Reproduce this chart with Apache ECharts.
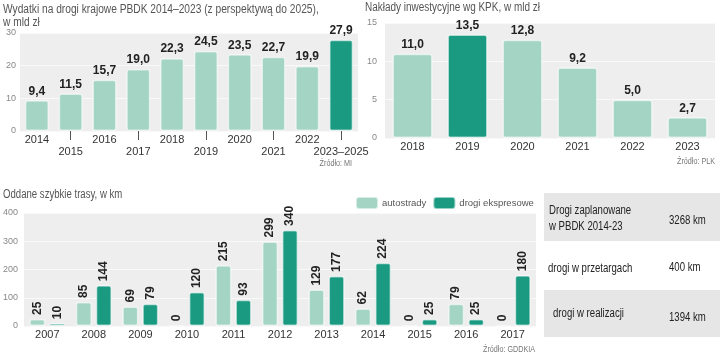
<!DOCTYPE html>
<html lang="pl">
<head>
<meta charset="UTF-8">
<title>Drogi i koleje</title>
<script src="https://cdn.jsdelivr.net/npm/echarts@6/dist/echarts.min.js"></script>
<style>
html,body{margin:0;padding:0;background:#fff;}
#main{width:720px;height:354px;}
</style>
</head>
<body>
<div id="main"></div>
<script type="text/javascript">
// wydatki PBDK, mld zl
var pbdkYears = ['2014','2015','2016','2017','2018','2019','2020','2021','2022','2023–2025'];
var pbdkValues = [9.4, 11.5, 15.7, 19.0, 22.3, 24.5, 23.5, 22.7, 19.9, 27.9];
// naklady KPK, mld zl
var kpkYears = ['2018','2019','2020','2021','2022','2023'];
var kpkValues = [11.0, 13.5, 12.8, 9.2, 5.0, 2.7];
// oddane trasy, km
var trasyYears = ['2007','2008','2009','2010','2011','2012','2013','2014','2015','2016','2017'];
var autostrady = [25, 85, 69, 0, 215, 299, 129, 62, 0, 79, 0];
var ekspresowe = [10, 144, 79, 120, 93, 340, 177, 224, 25, 25, 180];
// tabelka
var tabRows = [
    ['Drogi zaplanowane\nw PBDK 2014-23', '3268 km'],
    ['drogi w przetargach', '400 km'],
    ['drogi w realizacji', '1394 km']
];

var light = '#a4d4c4', dark = '#1b9a82';
var font = "'Liberation Sans',Arial,sans-serif";

function pl(v){ return v.toFixed(1).replace('.', ','); }
function colored(vals, hi){
    return vals.map(function(v, i){
        return {value: v, itemStyle: {color: i === hi ? dark : light}};
    });
}
// tekst "waski" - skalowany w poziomie
function txt(x, y, s, size, color, align, lh, sx){
    return {type: 'text', x: x, y: y, scaleX: sx || 0.8,
        style: {text: s, fill: color, fontSize: size, fontFamily: font,
                align: align || 'left', lineHeight: lh || size + 2}};
}
var barBorder = {borderColor: 'rgba(255,255,255,0.55)', borderWidth: 1.5, borderRadius: 2};
var valLabel = {show: true, position: 'top', distance: 3, color: '#222',
    fontFamily: font, fontWeight: 'bold', fontSize: 12};

function yAx(gi, max, step, margin){
    return {
        gridIndex: gi, type: 'value', min: 0, max: max, interval: step,
        axisLine: {show: false}, axisTick: {show: false},
        axisLabel: {color: '#888', fontSize: 9, fontFamily: font, margin: margin},
        splitLine: {lineStyle: {color: '#f9f9f9', width: 1}}
    };
}

var chart = echarts.init(document.getElementById('main'));
var option = {
    animation: false,
    backgroundColor: '#fff',
    legend: {
        left: 350, top: 191, itemWidth: 22, itemHeight: 12, itemGap: 6,
        icon: 'roundRect',
        textStyle: {color: '#555', fontSize: 9.5, fontFamily: font, padding: [0, 0, 0, -1]},
        data: [{name: 'autostrady', itemStyle: {color: light}},
               {name: 'drogi ekspresowe', itemStyle: {color: dark}}]
    },
    grid: [
        {left: 20, width: 338, top: 33, height: 98, show: true, backgroundColor: '#eeeeee', borderWidth: 0},
        {left: 385, width: 330, top: 23, height: 115, show: true, backgroundColor: '#eeeeee', borderWidth: 0},
        {left: 16, width: 520, top: 213, height: 113, show: true, backgroundColor: '#eeeeee', borderWidth: 0}
    ],
    xAxis: [
        {gridIndex: 0, type: 'category', data: pbdkYears,
         axisLine: {show: false},
         axisTick: {show: true, alignWithLabel: true, length: 9, interval: function(i){ return i % 2 === 1; },
                    lineStyle: {color: '#555'}},
         axisLabel: {interval: 0, color: '#333', fontSize: 11, fontFamily: font, margin: 3, lineHeight: 12,
                     formatter: function(v, i){ return i % 2 === 1 ? '\n' + v : v; }}},
        {gridIndex: 1, type: 'category', data: kpkYears,
         axisLine: {show: false}, axisTick: {show: false},
         axisLabel: {color: '#333', fontSize: 11, fontFamily: font, margin: 3}},
        {gridIndex: 2, type: 'category', data: trasyYears,
         axisLine: {show: false}, axisTick: {show: false},
         axisLabel: {color: '#333', fontSize: 11, fontFamily: font, margin: 3}}
    ],
    yAxis: [yAx(0, 30, 10, 4), yAx(1, 15, 5, 8), yAx(2, 400, 100, 6)],
    series: [
        {type: 'bar', xAxisIndex: 0, yAxisIndex: 0, barWidth: 24,
         data: colored(pbdkValues, 9), itemStyle: barBorder,
         label: Object.assign({}, valLabel, {formatter: function(p){ return pl(p.value); }})},
        {type: 'bar', xAxisIndex: 1, yAxisIndex: 1, barWidth: 40,
         data: colored(kpkValues, 1), itemStyle: barBorder,
         label: Object.assign({}, valLabel, {formatter: function(p){ return pl(p.value); }})},
        {name: 'autostrady', type: 'bar', xAxisIndex: 2, yAxisIndex: 2, barWidth: 16, barGap: '25%',
         data: autostrady, itemStyle: Object.assign({color: light}, barBorder),
         label: Object.assign({}, valLabel, {rotate: 90, align: 'left', verticalAlign: 'middle', distance: 4})},
        {name: 'drogi ekspresowe', type: 'bar', xAxisIndex: 2, yAxisIndex: 2, barWidth: 16, barGap: '25%',
         data: ekspresowe, itemStyle: Object.assign({color: dark}, barBorder),
         label: Object.assign({}, valLabel, {rotate: 90, align: 'left', verticalAlign: 'middle', distance: 4})}
    ],
    graphic: [
        txt(3, 3, 'Wydatki na drogi krajowe PBDK 2014–2023 (z perspektywą do 2025),\nw mld zł', 12, '#555', 'left', 13, 0.85),
        txt(365, 1, 'Nakłady inwestycyjne wg KPK, w mld zł', 12, '#555', 'left', 14, 0.83),
        txt(3, 188, 'Oddane szybkie trasy, w km', 12, '#555'),
        txt(352, 158, 'Źródło: MI', 9, '#777', 'right'),
        txt(715, 156, 'Źródło: PLK', 9, '#777', 'right'),
        txt(535, 344, 'Źródło: GDDKIA', 9, '#777', 'right'),
        {type: 'rect', shape: {x: 544, y: 193, width: 176, height: 48}, style: {fill: '#e6e6e6'}},
        {type: 'rect', shape: {x: 544, y: 290, width: 176, height: 47}, style: {fill: '#e6e6e6'}},
        txt(549, 203, tabRows[0][0], 12, '#222', 'left', 16),
        txt(669, 214, tabRows[0][1], 12, '#222'),
        txt(548, 262, tabRows[1][0], 12, '#222'),
        txt(669, 261, tabRows[1][1], 12, '#222'),
        txt(553, 307, tabRows[2][0], 12, '#222'),
        txt(669, 311, tabRows[2][1], 12, '#222')
    ]
};
chart.setOption(option);
</script>
</body>
</html>
